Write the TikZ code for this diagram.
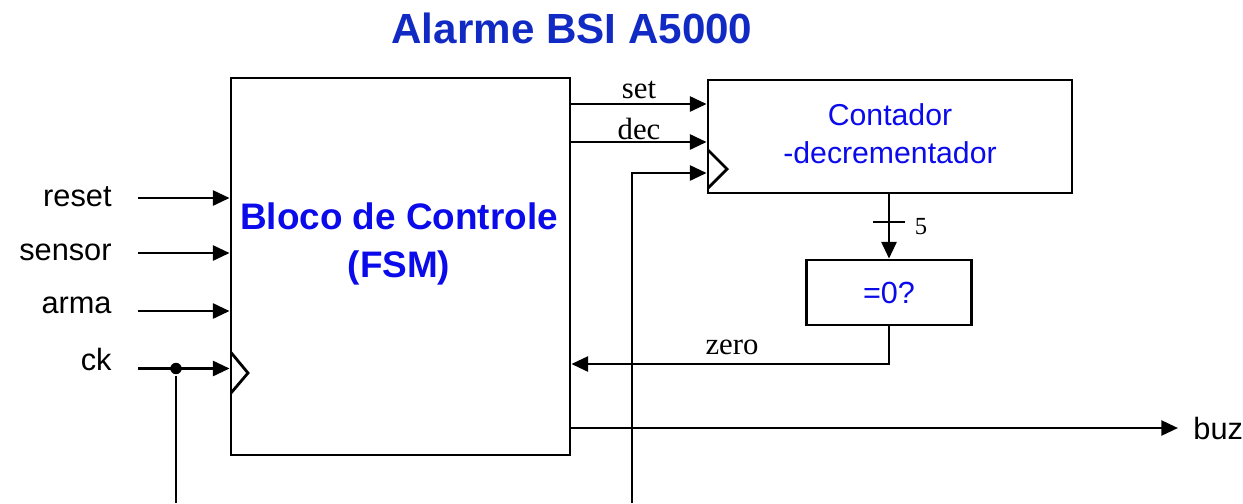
\documentclass[tikz,border=0pt]{standalone}
\usepackage{fontspec}
\setmainfont{Liberation Serif}
\setsansfont{Liberation Sans}
\usetikzlibrary{arrows.meta,calc,positioning}
\definecolor{titleblue}{RGB}{18,42,196}
\definecolor{textblue}{RGB}{10,10,235}

\begin{document}
\begin{tikzpicture}[
      line width=1.6pt,
      block/.style={draw, minimum width=6.78cm, minimum height=7.54cm, inner sep=0pt},
      cntbox/.style={draw, align=center, text=textblue, minimum width=7.28cm,
        minimum height=2.26cm, font=\sffamily\fontsize{17.2}{21.6}\selectfont},
      cmpbox/.style={draw, text=textblue, minimum width=3.30cm, minimum height=1.30cm,
        font=\sffamily\fontsize{17.4}{20}\selectfont},
      arr/.style={-{Triangle[length=9.5pt,width=8.5pt]}},
      sig/.style={font=\sffamily\fontsize{17.5}{20}\selectfont, inner sep=0pt},
      lbl/.style={font=\fontsize{17.5}{20}\selectfont, inner sep=0pt},
      dot/.style={circle, fill, inner sep=0pt, minimum size=6.5pt}
    ]
    \useasboundingbox (0,0) rectangle (24.86,-10.06);
    \node[anchor=base, text=titleblue, font=\sffamily\bfseries\fontsize{24}{28}\selectfont]
      (title) at (11.44,-0.86) {Alarme BSI A5000};

    % blocks
    \node[block] (fsm) at (8.01,-5.33) {};
    \node[align=center, text=textblue, font=\sffamily\bfseries\fontsize{21}{27.3}\selectfont]
      (fsmtxt) at (7.98,-4.88) {Bloco de Controle\\(FSM)};
    \node[cntbox] (cnt) at (17.80,-2.73) {};
    \node[align=center, text=textblue, font=\sffamily\fontsize{17.2}{21.6}\selectfont]
      (cnttxt) at (17.80,-2.68) {Contador\\-decrementador};
    \node[cmpbox] (eqz) at (17.78,-5.85) {=0?};

    % clock marks
    \draw (4.62,-7.05) -- (4.96,-7.46) -- (4.62,-7.86);
    \draw (14.16,-3.00) -- (14.54,-3.38) -- (14.16,-3.76);

    % inputs
    \node[sig, anchor=base east] (lreset) at (2.26,-4.13) {reset};
    \node[sig, anchor=base east] (lsensor) at (2.26,-5.21) {sensor};
    \node[sig, anchor=base east] (larma) at (2.26,-6.26) {arma};
    \node[sig, anchor=base east] (lck) at (2.26,-7.40) {ck};
    \coordinate (inreset) at (2.76,-3.96);
    \coordinate (insensor) at (2.76,-5.06);
    \coordinate (inarma) at (2.76,-6.22);
    \coordinate (inck) at (2.76,-7.37);
    \draw[arr] (inreset) -- (fsm.west |- inreset);
    \draw[arr] (insensor) -- (fsm.west |- insensor);
    \draw[arr] (inarma) -- (fsm.west |- inarma);
    \draw[arr] (inck) -- (fsm.west |- inck);
    \node[dot] (ckdot) at (3.52,-7.37) {};
    \coordinate (ckend) at (3.52,-10.06);
    \draw (ckdot) -- (ckend);

    % fsm -> counter
    \draw[arr] (fsm.east |- 0,-2.08) -- node[lbl, above=2.2pt] (lset) {set} (cnt.west |- 0,-2.08);
    \draw[arr] (fsm.east |- 0,-2.84) -- node[lbl, above=0.6pt] (ldec) {dec} (cnt.west |- 0,-2.84);
    \coordinate (ckcnt) at (12.64,-10.06);
    \draw[arr] (ckcnt) |- (cnt.west |- 0,-3.46);

    % counter -> compare -> fsm
    \draw[arr] (cnt.south -| eqz.north) -- (eqz.north);
    \coordinate (tick) at (17.78,-4.44);
    \draw ([xshift=-0.32cm]tick) -- ([xshift=0.32cm]tick);
    \node[lbl, font=\fontsize{14}{16}\selectfont] (lbus) at (18.42,-4.53) {5};
    \draw[arr] (eqz.south) |- ([yshift=-1.95cm]fsm.east);
    \node[lbl] (lzero) at (14.64,-6.95) {zero};

    % output
    \node[sig, anchor=west, inner xsep=8pt] (buz) at (23.56,-8.56) {buz};
    \draw[arr] (fsm.east |- buz) -- (buz);
  \end{tikzpicture}
\end{document}
